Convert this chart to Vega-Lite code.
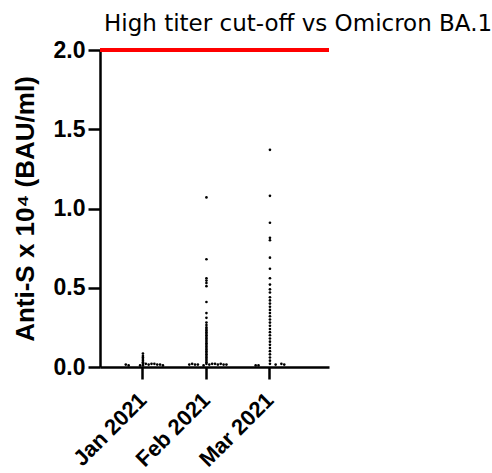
{
  "$schema": "https://vega.github.io/schema/vega-lite/v6.json",
  "width": 229,
  "height": 317,
  "autosize": {"type": "none"},
  "padding": {"left": 100, "top": 50, "right": 163, "bottom": 106},
  "background": "white",
  "title": {"text": "High titer cut-off vs Omicron BA.1", "anchor": "start", "frame": "group", "font": "DejaVu Sans", "fontSize": 23, "fontWeight": "normal", "color": "black", "offset": 3, "dx": 4},
  "config": {"view": {"stroke": null}},
  "datasets": {
    "pts": [
      {"month": "Jan 2021", "slot": 0, "value": 0.085}, {"month": "Jan 2021", "slot": 0, "value": 0.07}, {"month": "Jan 2021", "slot": 0, "value": 0.06},
      {"month": "Jan 2021", "slot": 0, "value": 0.05}, {"month": "Jan 2021", "slot": 0, "value": 0.04}, {"month": "Jan 2021", "slot": 0, "value": 0.03},
      {"month": "Jan 2021", "slot": 0, "value": 0.02}, {"month": "Jan 2021", "slot": 0, "value": 0.01},
      {"month": "Jan 2021", "slot": -6, "value": 0.015}, {"month": "Jan 2021", "slot": -5, "value": 0.01},
      {"month": "Jan 2021", "slot": -1, "value": 0.01}, {"month": "Jan 2021", "slot": 1, "value": 0.02},
      {"month": "Jan 2021", "slot": 2, "value": 0.015}, {"month": "Jan 2021", "slot": 3, "value": 0.02}, {"month": "Jan 2021", "slot": 4, "value": 0.02},
      {"month": "Jan 2021", "slot": 5, "value": 0.015}, {"month": "Jan 2021", "slot": 6, "value": 0.015}, {"month": "Jan 2021", "slot": 7, "value": 0.01},
      {"month": "Feb 2021", "slot": 0, "value": 1.07}, {"month": "Feb 2021", "slot": 0, "value": 0.68}, {"month": "Feb 2021", "slot": 0, "value": 0.56},
      {"month": "Feb 2021", "slot": 0, "value": 0.545}, {"month": "Feb 2021", "slot": 0, "value": 0.53}, {"month": "Feb 2021", "slot": 0, "value": 0.51},
      {"month": "Feb 2021", "slot": 0, "value": 0.41}, {"month": "Feb 2021", "slot": 0, "value": 0.34}, {"month": "Feb 2021", "slot": 0, "value": 0.31},
      {"month": "Feb 2021", "slot": 0, "value": 0.28}, {"month": "Feb 2021", "slot": 0, "value": 0.265},
      {"month": "Feb 2021", "slot": 0, "value": 0.25}, {"month": "Feb 2021", "slot": 0, "value": 0.24}, {"month": "Feb 2021", "slot": 0, "value": 0.23},
      {"month": "Feb 2021", "slot": 0, "value": 0.22}, {"month": "Feb 2021", "slot": 0, "value": 0.21}, {"month": "Feb 2021", "slot": 0, "value": 0.20},
      {"month": "Feb 2021", "slot": 0, "value": 0.19}, {"month": "Feb 2021", "slot": 0, "value": 0.18}, {"month": "Feb 2021", "slot": 0, "value": 0.17},
      {"month": "Feb 2021", "slot": 0, "value": 0.16}, {"month": "Feb 2021", "slot": 0, "value": 0.15}, {"month": "Feb 2021", "slot": 0, "value": 0.14},
      {"month": "Feb 2021", "slot": 0, "value": 0.13}, {"month": "Feb 2021", "slot": 0, "value": 0.12}, {"month": "Feb 2021", "slot": 0, "value": 0.11},
      {"month": "Feb 2021", "slot": 0, "value": 0.10}, {"month": "Feb 2021", "slot": 0, "value": 0.09}, {"month": "Feb 2021", "slot": 0, "value": 0.08},
      {"month": "Feb 2021", "slot": 0, "value": 0.07}, {"month": "Feb 2021", "slot": 0, "value": 0.06}, {"month": "Feb 2021", "slot": 0, "value": 0.05},
      {"month": "Feb 2021", "slot": 0, "value": 0.04}, {"month": "Feb 2021", "slot": 0, "value": 0.03}, {"month": "Feb 2021", "slot": 0, "value": 0.02},
      {"month": "Feb 2021", "slot": -6, "value": 0.015}, {"month": "Feb 2021", "slot": -5, "value": 0.02}, {"month": "Feb 2021", "slot": -4, "value": 0.015},
      {"month": "Feb 2021", "slot": -3, "value": 0.015}, {"month": "Feb 2021", "slot": -1, "value": 0.01}, {"month": "Feb 2021", "slot": 1, "value": 0.015},
      {"month": "Feb 2021", "slot": 2, "value": 0.02}, {"month": "Feb 2021", "slot": 3, "value": 0.02}, {"month": "Feb 2021", "slot": 4, "value": 0.015},
      {"month": "Feb 2021", "slot": 5, "value": 0.02}, {"month": "Feb 2021", "slot": 6, "value": 0.015}, {"month": "Feb 2021", "slot": 7, "value": 0.015},
      {"month": "Mar 2021", "slot": 0, "value": 1.37}, {"month": "Mar 2021", "slot": 0, "value": 1.08}, {"month": "Mar 2021", "slot": 0, "value": 0.91},
      {"month": "Mar 2021", "slot": 0, "value": 0.815}, {"month": "Mar 2021", "slot": 0, "value": 0.80}, {"month": "Mar 2021", "slot": 0, "value": 0.69},
      {"month": "Mar 2021", "slot": 0, "value": 0.62}, {"month": "Mar 2021", "slot": 0, "value": 0.56}, {"month": "Mar 2021", "slot": 0, "value": 0.52},
      {"month": "Mar 2021", "slot": 0, "value": 0.49}, {"month": "Mar 2021", "slot": 0, "value": 0.47}, {"month": "Mar 2021", "slot": 0, "value": 0.44},
      {"month": "Mar 2021", "slot": 0, "value": 0.42}, {"month": "Mar 2021", "slot": 0, "value": 0.40}, {"month": "Mar 2021", "slot": 0, "value": 0.38},
      {"month": "Mar 2021", "slot": 0, "value": 0.36}, {"month": "Mar 2021", "slot": 0, "value": 0.34}, {"month": "Mar 2021", "slot": 0, "value": 0.32},
      {"month": "Mar 2021", "slot": 0, "value": 0.30}, {"month": "Mar 2021", "slot": 0, "value": 0.28}, {"month": "Mar 2021", "slot": 0, "value": 0.26},
      {"month": "Mar 2021", "slot": 0, "value": 0.24}, {"month": "Mar 2021", "slot": 0, "value": 0.22}, {"month": "Mar 2021", "slot": 0, "value": 0.20},
      {"month": "Mar 2021", "slot": 0, "value": 0.18}, {"month": "Mar 2021", "slot": 0, "value": 0.16}, {"month": "Mar 2021", "slot": 0, "value": 0.14},
      {"month": "Mar 2021", "slot": 0, "value": 0.12}, {"month": "Mar 2021", "slot": 0, "value": 0.10}, {"month": "Mar 2021", "slot": 0, "value": 0.08},
      {"month": "Mar 2021", "slot": 0, "value": 0.06}, {"month": "Mar 2021", "slot": 0, "value": 0.04}, {"month": "Mar 2021", "slot": 0, "value": 0.02},
      {"month": "Mar 2021", "slot": -5, "value": 0.01}, {"month": "Mar 2021", "slot": -4, "value": 0.01}, {"month": "Mar 2021", "slot": 2, "value": 0.015},
      {"month": "Mar 2021", "slot": 4, "value": 0.02}, {"month": "Mar 2021", "slot": 5, "value": 0.015}
    ],
    "cutoff": [{"level": 2}]
  },
  "layer": [
    {
      "data": {"name": "pts"},
      "mark": {"type": "circle", "size": 7, "color": "black", "opacity": 1},
      "encoding": {
        "x": {
          "field": "month", "type": "nominal", "sort": ["Jan 2021", "Feb 2021", "Mar 2021"],
          "scale": {"paddingInner": 0.37, "paddingOuter": 0.488, "align": 0.37},
          "axis": {"title": null, "labelAngle": -45, "labelFont": "Liberation Sans", "labelFontWeight": "bold", "labelFontSize": 22, "labelColor": "black", "labelPadding": 10, "labelOffset": -7, "domainColor": "black", "domainWidth": 2.5, "tickColor": "black", "tickWidth": 2.5, "tickSize": 12, "grid": false}
        },
        "xOffset": {"field": "slot", "type": "ordinal", "scale": {"type": "point", "padding": 0, "domain": [-7, -6, -5, -4, -3, -2, -1, 0, 1, 2, 3, 4, 5, 6, 7]}},
        "y": {
          "field": "value", "type": "quantitative",
          "scale": {"domain": [0, 2], "nice": false, "zero": true},
          "axis": {"title": "Anti-S x 10⁴ (BAU/ml)", "titleFont": "Liberation Sans", "titleFontWeight": "bold", "titleFontSize": 26, "titleColor": "black", "titlePadding": 15, "values": [0, 0.5, 1, 1.5, 2], "format": ".1f", "labelFont": "Liberation Sans", "labelFontWeight": "bold", "labelFontSize": 23, "labelColor": "black", "labelPadding": 3, "domainColor": "black", "domainWidth": 2.5, "tickColor": "black", "tickWidth": 2.5, "tickSize": 12, "grid": false}
        }
      }
    },
    {
      "data": {"name": "cutoff"},
      "mark": {"type": "rule", "color": "#ff0000", "strokeWidth": 4},
      "encoding": {"y": {"field": "level", "type": "quantitative"}}
    }
  ]
}
